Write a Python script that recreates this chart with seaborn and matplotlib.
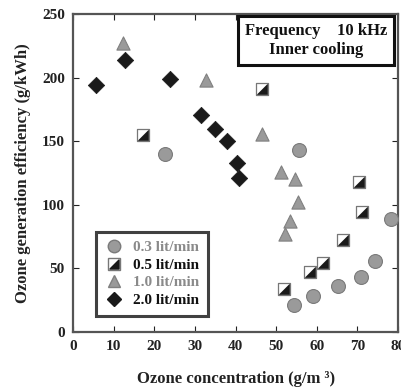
import matplotlib
matplotlib.use("Agg")
import matplotlib.pyplot as plt
import seaborn as sns
import pandas as pd
from matplotlib.path import Path
from matplotlib.lines import Line2D
from matplotlib.legend_handler import HandlerTuple

# ---- data ----
x_03 = [22.7, 55.6, 78.4, 74.3, 70.9, 65.3, 59.1, 54.4]
y_03 = [140, 143, 89, 56, 43, 36, 28, 21]

x_05 = [17.1, 46.5, 70.3, 71.2, 66.4, 61.5, 58.3, 52.0]
y_05 = [155, 191, 118, 94, 72, 54, 47, 34]

x_10 = [12.2, 32.8, 46.4, 51.3, 54.7, 55.4, 53.4, 52.1]
y_10 = [227, 198, 156, 126, 120, 102, 87, 77]

x_20 = [5.6, 12.7, 23.9, 31.5, 35.0, 37.8, 40.4, 40.9]
y_20 = [194, 214, 199, 171, 160, 150, 133, 121]

labels = ["0.3 lit/min", "0.5 lit/min", "1.0 lit/min", "2.0 lit/min"]
x_ticks = [0, 10, 20, 30, 40, 50, 60, 70, 80]
y_ticks = [0, 50, 100, 150, 200, 250]

sns.set_theme(style="ticks")
plt.rcParams["font.family"] = ["Liberation Serif", "DejaVu Serif"]
plt.rcParams["font.weight"] = "bold"

fig = plt.figure(figsize=(4.02, 3.92), dpi=100)
ax = fig.add_axes([0.182, 0.153, 0.808, 0.811])

lr_tri = Path([(1, -1), (1, 1), (-1, -1), (1, -1)],
              [Path.MOVETO, Path.LINETO, Path.LINETO, Path.CLOSEPOLY])

d03 = pd.DataFrame({"x": x_03, "y": y_03})
d05 = pd.DataFrame({"x": x_05, "y": y_05})
d10 = pd.DataFrame({"x": x_10, "y": y_10})
d20 = pd.DataFrame({"x": x_20, "y": y_20})

sns.scatterplot(data=d03, x="x", y="y", ax=ax, marker="o", s=100,
                color="#9a9a9a", edgecolor="#7a7a7a", linewidth=0.8, zorder=3)
sns.scatterplot(data=d05, x="x", y="y", ax=ax, marker="s", s=80,
                color="white", edgecolor="#777777", linewidth=0.9, zorder=3)
sns.scatterplot(data=d05, x="x", y="y", ax=ax, marker=lr_tri, s=52,
                color="#1a1a1a", edgecolor="#1a1a1a", linewidth=0.5, zorder=4)
sns.scatterplot(data=d10, x="x", y="y", ax=ax, marker="^", s=90,
                color="#9a9a9a", edgecolor="#808080", linewidth=0.8, zorder=3)
sns.scatterplot(data=d20, x="x", y="y", ax=ax, marker="D", s=70,
                color="#1a1a1a", edgecolor="#1a1a1a", linewidth=0.5, zorder=3)

ax.set_xlim(0, 80)
ax.set_ylim(0, 250)
ax.set_xticks(x_ticks)
ax.set_yticks(y_ticks)
ax.tick_params(direction="in", top=True, right=True, length=4, width=0.8,
               labelsize=11, pad=6, colors="#222222")
for lab in ax.get_xticklabels() + ax.get_yticklabels():
    lab.set_fontweight("bold")
for sp in ax.spines.values():
    sp.set_linewidth(1.6)
    sp.set_color("#555555")

ax.set_xlabel("Ozone concentration (g/m \u00b3)", fontsize=12, fontweight="bold",
              labelpad=13, color="#222222")
ax.set_ylabel("Ozone generation efficiency (g/kWh)", fontsize=12,
              fontweight="bold", labelpad=8, color="#222222")

# legend
h03 = Line2D([], [], ls="none", marker="o", ms=9, mfc="#9a9a9a", mec="#7a7a7a")
h05a = Line2D([], [], ls="none", marker="s", ms=8, mfc="white", mec="#777777")
h05b = Line2D([], [], ls="none", marker=lr_tri, ms=6.5, mfc="#1a1a1a", mec="#1a1a1a")
h10 = Line2D([], [], ls="none", marker="^", ms=8, mfc="#9a9a9a", mec="#808080")
h20 = Line2D([], [], ls="none", marker="D", ms=7, mfc="#1a1a1a", mec="#1a1a1a")
leg = ax.legend([h03, (h05a, h05b), h10, h20], labels,
                handler_map={tuple: HandlerTuple(ndivide=1, pad=0)},
                loc="lower left", bbox_to_anchor=(0.07, 0.05), borderaxespad=0,
                frameon=True, fancybox=False, edgecolor="#111111", fontsize=11,
                handletextpad=0.6, borderpad=0.6, labelspacing=0.25,
                handlelength=1.2)
leg.get_frame().set_linewidth(2.2)
txt_colors = ["#8a8a8a", "#111111", "#8a8a8a", "#111111"]
for t, c in zip(leg.get_texts(), txt_colors):
    t.set_color(c)
    t.set_fontweight("bold")

ax.text(0.748, 0.917, "Frequency    10 kHz\nInner cooling", transform=ax.transAxes,
        ha="center", va="center", fontsize=12, fontweight="bold",
        color="#111111", linespacing=1.25,
        bbox=dict(boxstyle="square,pad=0.4", fc="white", ec="#111111", lw=2.2))

fig.savefig("out.png", dpi=100, facecolor="white")
